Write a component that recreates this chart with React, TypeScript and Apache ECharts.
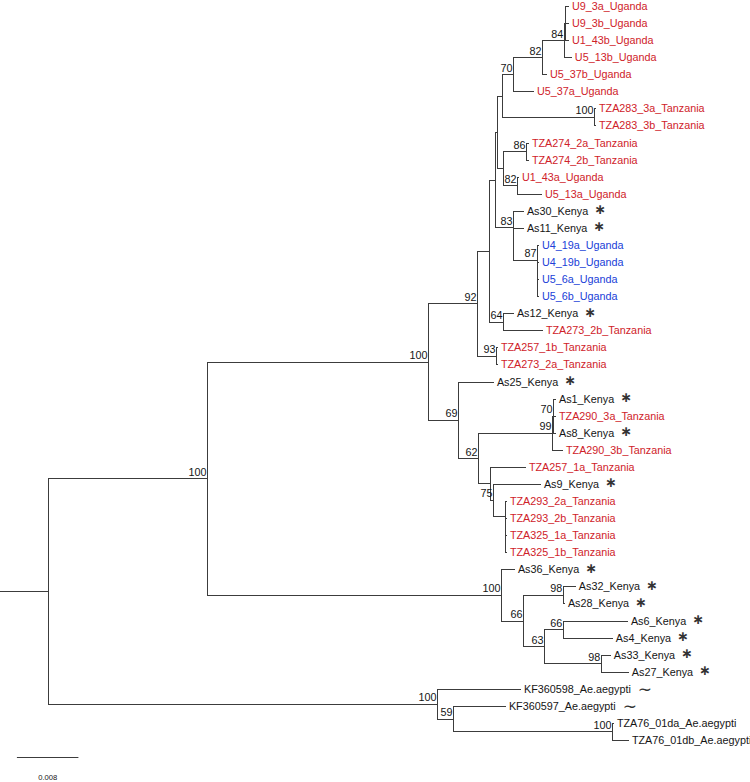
import React, { useEffect, useRef } from "react";
import * as echarts from "echarts";

// Phylogeny: [node, parent, branch length (subst./site), bootstrap support]
// children are listed top-to-bottom in the order they appear
const TREE_EDGES: [string, string, number, number | null][] = [
  ["root", "", 0.00624, null],
  ["A", "root", 0.02068, 100],
  ["C", "A", 0.02875, 100],
  ["N92", "C", 0.00637, 92],
  ["E", "N92", 0.00156, null],
  ["G", "E", 0.00078, null],
  ["F", "G", 0.00026, null],
  ["N502", "F", 0.00065, null],
  ["N70a", "N502", 0.00143, 70],
  ["N82", "N70a", 0.00377, 82],
  ["N84", "N82", 0.00286, 84],
  ["Z", "N84", 0.00013, null],
  ["U9_3a_Uganda", "Z", 0.00039, null],
  ["U9_3b_Uganda", "Z", 0.00039, null],
  ["U1_43b_Uganda", "Z", 0.00039, null],
  ["U5_13b_Uganda", "N84", 0.00091, null],
  ["U5_37b_Uganda", "N82", 0.00052, null],
  ["U5_37a_Uganda", "N70a", 0.0026, null],
  ["N100t", "N502", 0.01197, 100],
  ["TZA283_3a_Tanzania", "N100t", 0.00013, null],
  ["TZA283_3b_Tanzania", "N100t", 0.00013, null],
  ["H", "F", 0.00078, null],
  ["N86", "H", 0.00299, 86],
  ["TZA274_2a_Tanzania", "N86", 0.00026, null],
  ["TZA274_2b_Tanzania", "N86", 0.00026, null],
  ["N82b", "H", 0.00182, 82],
  ["U1_43a_Uganda", "N82b", 0.00013, null],
  ["U5_13a_Uganda", "N82b", 0.00312, null],
  ["N83", "G", 0.00234, 83],
  ["As30_Kenya", "N83", 0.0013, null],
  ["Q", "N83", 0, null],
  ["As11_Kenya", "Q", 0.0013, null],
  ["N87", "Q", 0.00312, 87],
  ["U4_19a_Uganda", "N87", 0.00013, null],
  ["R1", "N87", 0, null],
  ["U4_19b_Uganda", "R1", 0.00013, null],
  ["R2", "R1", 0, null],
  ["U5_6a_Uganda", "R2", 0.00013, null],
  ["U5_6b_Uganda", "R2", 0.00013, null],
  ["N64", "E", 0.00182, 64],
  ["As12_Kenya", "N64", 0.0013, null],
  ["TZA273_2b_Tanzania", "N64", 0.00507, null],
  ["N93", "N92", 0.00247, 93],
  ["TZA257_1b_Tanzania", "N93", 0.00013, null],
  ["TZA273_2a_Tanzania", "N93", 0.00013, null],
  ["N69", "C", 0.0039, 69],
  ["As25_Kenya", "N69", 0.00455, null],
  ["N62", "N69", 0.0026, 62],
  ["N99", "N62", 0.00963, 99],
  ["N70c", "N99", 0.00013, 70],
  ["As1_Kenya", "N70c", 0.00026, null],
  ["TZA290_3a_Tanzania", "N70c", 0.00026, null],
  ["As8_Kenya", "N70c", 0.00026, null],
  ["TZA290_3b_Tanzania", "N99", 0.0013, null],
  ["W", "N62", 0.00156, null],
  ["TZA257_1a_Tanzania", "W", 0.00455, null],
  ["N75", "W", 0.00039, 75],
  ["As9_Kenya", "N75", 0.00611, null],
  ["K1", "N75", 0.00156, null],
  ["TZA293_2a_Tanzania", "K1", 0.00013, null],
  ["K2", "K1", 0, null],
  ["TZA293_2b_Tanzania", "K2", 0.00013, null],
  ["K3", "K2", 0, null],
  ["TZA325_1a_Tanzania", "K3", 0.00013, null],
  ["TZA325_1b_Tanzania", "K3", 0.00013, null],
  ["D", "A", 0.03824, 100],
  ["As36_Kenya", "D", 0.00169, null],
  ["N66a", "D", 0.00286, 66],
  ["N98a", "N66a", 0.0052, 98],
  ["As32_Kenya", "N98a", 0.00156, null],
  ["As28_Kenya", "N98a", 0.00013, null],
  ["N63", "N66a", 0.00273, 63],
  ["N66b", "N63", 0.00247, 66],
  ["As6_Kenya", "N66b", 0.00833, null],
  ["As4_Kenya", "N66b", 0.00637, null],
  ["N98b", "N63", 0.00741, 98],
  ["As33_Kenya", "N98b", 0.00117, null],
  ["As27_Kenya", "N98b", 0.00351, null],
  ["B", "root", 0.0506, 100],
  ["KF360598_Ae.aegypti", "B", 0.0108, null],
  ["N59", "B", 0.00208, 59],
  ["KF360597_Ae.aegypti", "N59", 0.00676, null],
  ["N100o", "N59", 0.02068, 100],
  ["TZA76_01da_Ae.aegypti", "N100o", 0.00013, null],
  ["TZA76_01db_Ae.aegypti", "N100o", 0.00208, null],
];

const BLUE_LEAVES = ["U4_19a_Uganda", "U4_19b_Uganda", "U5_6a_Uganda", "U5_6b_Uganda"];
const STAR_LEAVES = [
  "As30_Kenya", "As11_Kenya", "As12_Kenya", "As25_Kenya", "As1_Kenya", "As8_Kenya",
  "As9_Kenya", "As36_Kenya", "As32_Kenya", "As28_Kenya", "As6_Kenya", "As4_Kenya",
  "As33_Kenya", "As27_Kenya",
];
const TILDE_LEAVES = ["KF360598_Ae.aegypti", "KF360597_Ae.aegypti"];
const SCALE_BAR_LENGTH = 0.008;
const SCALE_BAR_LABEL = "0.008";

const RED = "#cf2229";
const BLUE = "#2040d8";
const BLACK = "#151515";
const LINE = "#3c3c3c";
const FONT = '"Liberation Sans", Arial, Helvetica, sans-serif';
const FS = 10.8;

const W = 750;
const H = 782;
const PX_PER_UNIT = 7687.5; // horizontal scale (61.5 px per 0.008)
const ROW = 17.07;
const ROW0 = 6;

type N = { id: string; parent: string; len: number; sup: number | null; children: N[]; depth: number; pdepth: number; y: number };

function layout() {
  const map: Record<string, N> = {};
  const order: N[] = [];
  TREE_EDGES.forEach(([id, parent, len, sup]) => {
    const n: N = { id, parent, len, sup, children: [], depth: 0, pdepth: 0, y: 0 };
    map[id] = n;
    order.push(n);
    if (parent) map[parent].children.push(n);
  });
  const root = map["root"];
  let leafIdx = 0;
  const walk = (n: N, pd: number) => {
    n.pdepth = pd;
    n.depth = pd + n.len;
    if (n.children.length === 0) {
      n.y = leafIdx++;
    } else {
      n.children.forEach((c) => walk(c, n.depth));
      n.y = (n.children[0].y + n.children[n.children.length - 1].y) / 2;
    }
  };
  walk(root, 0);
  return order;
}

function leafColor(name: string) {
  if (BLUE_LEAVES.includes(name)) return BLUE;
  if (name.includes("Uganda") || name.includes("Tanzania")) return RED;
  return BLACK;
}

let measureCtx: CanvasRenderingContext2D | null = null;
function textWidth(t: string) {
  if (!measureCtx) measureCtx = document.createElement("canvas").getContext("2d");
  if (!measureCtx) return t.length * 6;
  measureCtx.font = `${FS}px ${FONT}`;
  return measureCtx.measureText(t).width;
}

export default function App() {
  const ref = useRef<HTMLDivElement>(null);
  useEffect(() => {
    if (!ref.current) return;
    const chart = echarts.init(ref.current, undefined, { renderer: "svg" });
    const nodes = layout();
    const branchData = nodes.map((n) => {
      const ys = n.children.map((c) => c.y);
      const top = ys.length ? ys[0] : n.y;
      const bot = ys.length ? ys[ys.length - 1] : n.y;
      return [n.pdepth, n.depth, n.y, top, bot];
    });
    const leaves = nodes.filter((n) => n.children.length === 0);
    const leafData = leaves.map((n) => [n.depth, n.y]);
    const supNodes = nodes.filter((n) => n.sup !== null);
    const supData = supNodes.map((n) => [n.depth, n.y, n.sup as number]);
    const sx = (v: number) => Math.round(v) + 0.5;

    chart.setOption({
      animation: false,
      backgroundColor: "#ffffff",
      grid: { left: 0, top: 0, width: W, height: H, containLabel: false },
      xAxis: { type: "value", min: 0, max: W / PX_PER_UNIT, show: false },
      yAxis: { type: "value", inverse: true, min: -ROW0 / ROW, max: (H - ROW0) / ROW, show: false },
      series: [
        {
          type: "custom",
          clip: false,
          silent: true,
          data: branchData,
          renderItem: (params: any, api: any) => {
            const p0 = api.coord([api.value(0), api.value(2)]);
            const p1 = api.coord([api.value(1), api.value(2)]);
            const v0 = api.coord([api.value(1), api.value(3)]);
            const v1 = api.coord([api.value(1), api.value(4)]);
            const children: any[] = [];
            if (p1[0] - p0[0] > 0.3) {
              children.push({
                type: "line",
                shape: { x1: Math.round(p0[0]), y1: sx(p0[1]), x2: Math.round(p1[0]) + 1, y2: sx(p1[1]) },
                style: { stroke: LINE, lineWidth: 1 },
              });
            }
            if (v1[1] - v0[1] > 0.5) {
              children.push({
                type: "line",
                shape: { x1: sx(v0[0]), y1: Math.round(v0[1]), x2: sx(v1[0]), y2: Math.round(v1[1]) + 1 },
                style: { stroke: LINE, lineWidth: 1 },
              });
            }
            return { type: "group", children };
          },
        },
        {
          type: "custom",
          clip: false,
          silent: true,
          data: leafData,
          renderItem: (params: any, api: any) => {
            const leaf = leaves[params.dataIndex];
            const p = api.coord([api.value(0), api.value(1)]);
            const x = p[0] + 4;
            const children: any[] = [
              {
                type: "text",
                x,
                y: p[1],
                style: {
                  text: leaf.id,
                  fill: leafColor(leaf.id),
                  fontSize: FS,
                  fontFamily: FONT,
                  align: "left",
                  verticalAlign: "middle",
                },
              },
            ];
            const w = textWidth(leaf.id);
            if (STAR_LEAVES.includes(leaf.id)) {
              children.push({
                type: "text",
                x: x + w + 6,
                y: p[1] - 1.5,
                style: {
                  text: "∗",
                  fill: "#333",
                  fontSize: 14,
                  fontWeight: "bold",
                  fontFamily: '"DejaVu Sans"',
                  align: "left",
                  verticalAlign: "middle",
                },
              });
            }
            if (TILDE_LEAVES.includes(leaf.id)) {
              children.push({
                type: "text",
                x: x + w + 7,
                y: p[1],
                style: {
                  text: "∼",
                  fill: "#333",
                  fontSize: 17,
                  fontFamily: '"DejaVu Sans"',
                  align: "left",
                  verticalAlign: "middle",
                },
              });
            }
            return { type: "group", children };
          },
        },
        {
          type: "custom",
          clip: false,
          silent: true,
          data: supData,
          renderItem: (params: any, api: any) => {
            const p = api.coord([api.value(0), api.value(1)]);
            return {
              type: "text",
              x: p[0] - 0.5,
              y: p[1] - 1,
              style: {
                text: String(api.value(2)),
                fill: BLACK,
                fontSize: FS,
                fontFamily: FONT,
                align: "right",
                verticalAlign: "bottom",
              },
            };
          },
        },
        {
          type: "custom",
          clip: false,
          silent: true,
          data: [[0.0022, 44, SCALE_BAR_LENGTH]],
          renderItem: (params: any, api: any) => {
            const a = api.coord([api.value(0), api.value(1)]);
            const b = api.coord([api.value(0) + api.value(2), api.value(1)]);
            return {
              type: "group",
              children: [
                {
                  type: "line",
                  shape: { x1: a[0], y1: sx(a[1]), x2: b[0], y2: sx(a[1]) },
                  style: { stroke: LINE, lineWidth: 1 },
                },
                {
                  type: "text",
                  x: (a[0] + b[0]) / 2,
                  y: a[1] + 20,
                  style: {
                    text: SCALE_BAR_LABEL,
                    fill: BLACK,
                    fontSize: 7.6,
                    fontFamily: FONT,
                    align: "center",
                    verticalAlign: "middle",
                  },
                },
              ],
            };
          },
        },
      ],
    });
    return () => chart.dispose();
  }, []);
  return (
    <div
      ref={ref}
      style={{ position: "absolute", left: 0, top: 0, width: W, height: H, background: "#fff" }}
    />
  );
}
